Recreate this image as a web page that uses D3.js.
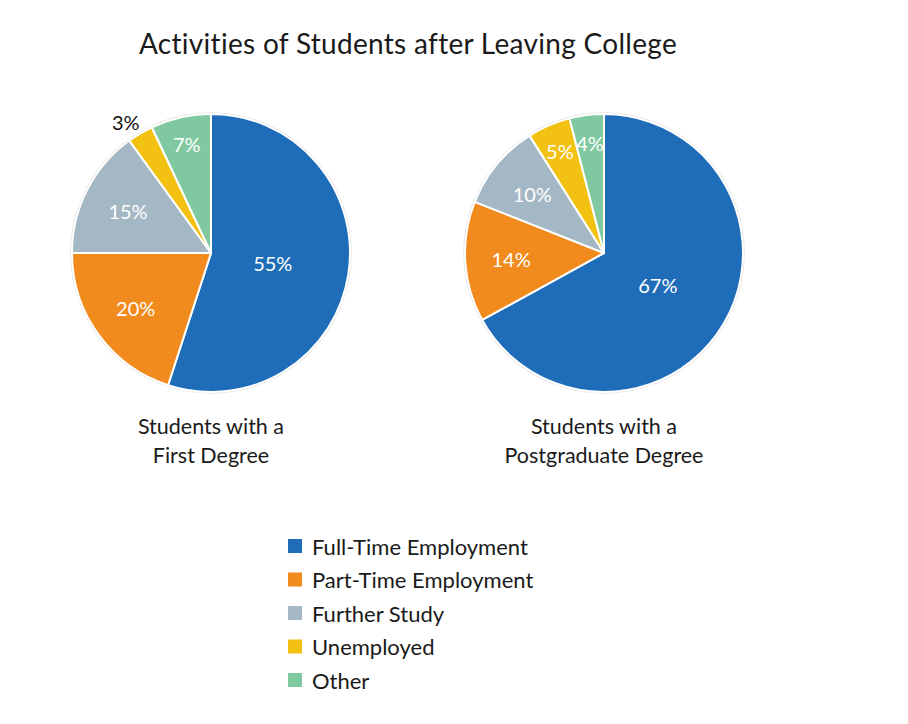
<!DOCTYPE html>
<html><head><meta charset="utf-8">
<script src="https://cdn.jsdelivr.net/npm/d3@7"></script>
<style>body{margin:0;background:#fff;} text{font-family:Lato,"Open Sans",sans-serif;}</style>
</head><body>
<svg id="c" width="908" height="724"></svg>
<script>
const categories = ["Full-Time Employment","Part-Time Employment","Further Study","Unemployed","Other"];
const firstDegree = [55,20,15,3,7];
const postgraduate = [67,14,10,5,4];
const pieTitles = [["Students with a","First Degree"],["Students with a","Postgraduate Degree"]];
const chartTitle = "Activities of Students after Leaving College";
const colors = ["#1f6db8","#f28b1e","#a4b7c5","#f3c112","#80c9a0"];

const svg = d3.select("#c");
svg.append("text").attr("x",408).attr("y",54).attr("text-anchor","middle")
  .attr("font-size",28).attr("letter-spacing",0.3).attr("fill","#1a1a1a").text(chartTitle);

const color = d3.scaleOrdinal().domain(categories).range(colors);
const pie = d3.pie().sort(null).value(d=>d.v);
const R = 139;
const arc = d3.arc().innerRadius(0).outerRadius(R);

function drawPie(values, cx, cy, titles){
  const data = categories.map((c,i)=>({c, v:values[i]}));
  const g = svg.append("g").attr("transform",`translate(${cx},${cy})`);
  g.append("circle").attr("r",R+1).attr("fill","none").attr("stroke","#e4e4e4").attr("stroke-width",1.5);
  const arcs = pie(data);
  g.selectAll("path").data(arcs).join("path").attr("d",arc)
    .attr("fill",d=>color(d.data.c)).attr("stroke","#fff").attr("stroke-width",2).attr("stroke-linejoin","round");
  g.selectAll("text.lbl").data(arcs).join("text").attr("class","lbl")
    .each(function(d){
      const v=d.data.v;
      let f = v<=3 ? 1.12 : v<8 ? 0.8 : v<50 ? 0.67 : 0.45;
      const a=(d.startAngle+d.endAngle)/2;
      const r=R*f;
      d3.select(this).attr("x",Math.sin(a)*r - (v<=3?6:0)).attr("y",-Math.cos(a)*r + (v<=3?3:0))
        .attr("fill", v<=3 ? "#111" : "#fff");
    })
    .attr("text-anchor","middle").attr("dominant-baseline","central")
    .attr("font-size",20).text(d=>d.data.v+"%");
  titles.forEach((t,i)=>{
    svg.append("text").attr("x",cx).attr("y",434+i*29).attr("text-anchor","middle")
      .attr("font-size",21.5).attr("fill","#1a1a1a").text(t);
  });
}
drawPie(firstDegree,211,253,pieTitles[0]);
drawPie(postgraduate,604,253,pieTitles[1]);

const lg = svg.append("g");
const ly = d3.scalePoint().domain(categories).range([546,680]);
categories.forEach(c=>{
  lg.append("rect").attr("x",288).attr("y",ly(c)-7).attr("width",14).attr("height",14).attr("fill",color(c));
  lg.append("text").attr("x",312).attr("y",ly(c)).attr("dominant-baseline","central")
    .attr("font-size",22).attr("fill","#1a1a1a").text(c);
});
</script>
</body></html>
